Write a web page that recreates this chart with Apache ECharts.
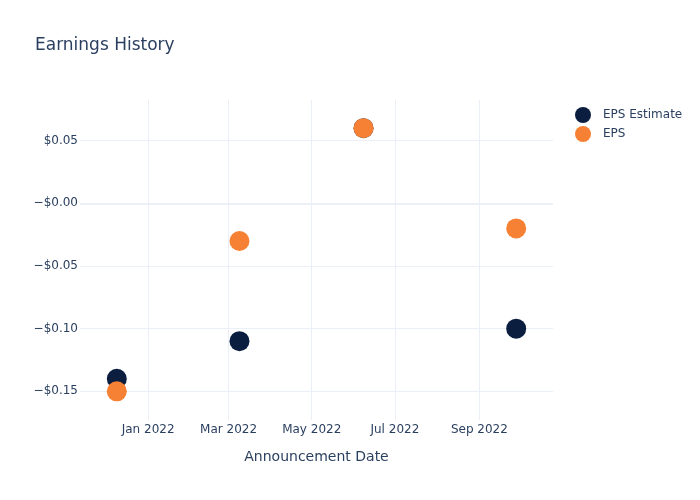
<!DOCTYPE html>
<html>
<head>
<meta charset="utf-8">
<script src="https://cdn.jsdelivr.net/npm/echarts@6/dist/echarts.min.js"></script>
<style>html,body{margin:0;padding:0;background:#fff}#c{width:700px;height:500px}</style>
</head>
<body>
<div id="c"></div>
<script>
const dates = ['2021-12-09', '2022-03-09', '2022-06-08', '2022-09-28'];
const epsEstimate = [-0.14, -0.11, 0.06, -0.10];
const eps = [-0.15, -0.03, 0.06, -0.02];
const xTickDates = ['2022-01-01', '2022-03-01', '2022-05-01', '2022-07-01', '2022-09-01'];
const xTickLabels = ['Jan 2022', 'Mar 2022', 'May 2022', 'Jul 2022', 'Sep 2022'];
const yTickValues = [0.05, 0, -0.05, -0.10, -0.15];
const yTickLabels = ['$0.05', '\u2212$0.00', '\u2212$0.05', '\u2212$0.10', '\u2212$0.15'];

const ts = d => new Date(d + 'T00:00:00Z').getTime();
const xTicks = xTickDates.map(ts);
const txt = '#2a3f5f';
const grid = '#EBF0F8';
const font = '"DejaVu Sans", Verdana, sans-serif';

const chart = echarts.init(document.getElementById('c'), null, {renderer: 'canvas'});
chart.setOption({
  animation: false,
  backgroundColor: '#fff',
  textStyle: {fontFamily: font},
  title: {
    text: 'Earnings History', left: 30, top: 32,
    textStyle: {fontFamily: font, fontSize: 17, fontWeight: 'normal', color: txt}
  },
  legend: {
    orient: 'vertical', left: 570, top: 102, itemGap: 3,
    itemWidth: 16, itemHeight: 16, icon: 'circle',
    textStyle: {fontFamily: font, fontSize: 12, color: txt, padding: [0, 0, 0, 7]},
    data: ['EPS Estimate', 'EPS']
  },
  grid: {left: 80, right: 147, top: 100, bottom: 80},
  xAxis: {
    type: 'value',
    min: ts('2021-11-12'), max: ts('2022-10-25'),
    name: 'Announcement Date', nameLocation: 'middle', nameGap: 30,
    nameTextStyle: {fontFamily: font, fontSize: 14, color: txt},
    axisLine: {show: false},
    axisTick: {show: false, customValues: xTicks},
    axisLabel: {
      customValues: xTicks, color: txt, fontSize: 12, fontFamily: font, margin: 4,
      formatter: v => { const i = xTicks.indexOf(v); return i >= 0 ? xTickLabels[i] : ''; }
    },
    splitLine: {show: true, lineStyle: {color: grid, width: 1}}
  },
  yAxis: {
    type: 'value', min: -0.1729, max: 0.0825,
    axisLine: {show: false},
    axisTick: {show: false, customValues: yTickValues},
    axisLabel: {
      customValues: yTickValues, color: txt, fontSize: 12, fontFamily: font, margin: 2,
      formatter: v => { const i = yTickValues.findIndex(t => Math.abs(t - v) < 1e-9); return i >= 0 ? yTickLabels[i] : ''; }
    },
    splitLine: {show: true, lineStyle: {color: grid, width: 1}}
  },
  series: [
    {
      name: 'EPS Estimate', type: 'scatter', symbolSize: 20,
      itemStyle: {color: '#0b1e3f', opacity: 1},
      data: dates.map((d, i) => [ts(d), epsEstimate[i]]),
      markLine: {
        silent: true, symbol: 'none', label: {show: false},
        lineStyle: {color: grid, width: 2, type: 'solid'},
        data: [{yAxis: 0}], z: 0
      },
      z: 2
    },
    {
      name: 'EPS', type: 'scatter', symbolSize: 20,
      itemStyle: {color: '#f68033', opacity: 1},
      data: dates.map((d, i) => [ts(d), eps[i]]),
      z: 3
    }
  ]
});
</script>
</body>
</html>
